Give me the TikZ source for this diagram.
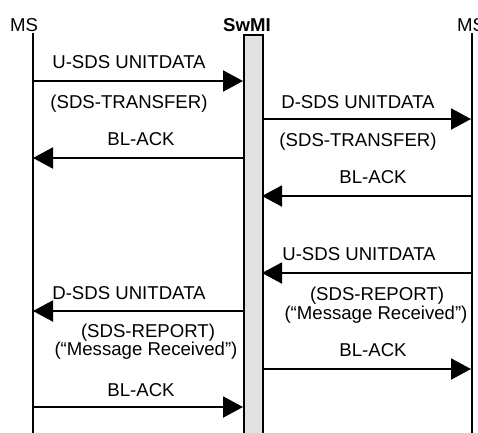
\documentclass[tikz,border=0pt]{standalone}
\usepackage{fontspec}
\setmainfont{Liberation Sans}
\usepackage{tikz}
\usetikzlibrary{arrows.meta, positioning}
\definecolor{barfill}{HTML}{E1E1E1}
\tikzstyle{lbl} = [inner sep=0pt, text height=13pt, text depth=0pt, font=\fontsize{18.6}{18}\selectfont]
\tikzstyle{life} = [line width=2pt]
\tikzstyle{arrow} = [line width=2pt, -{Triangle[length=20pt, width=21pt]}]

\begin{document}
\begin{tikzpicture}[x=1pt, y=-1pt]
    \useasboundingbox (0,0) rectangle (478,432);
    % entities
    \node[lbl] (msA) at (24,25) {MS};
    \node[lbl, font=\fontsize{18.6}{18}\selectfont\bfseries] (swmi) at (247,25) {SwMI};
    \node[lbl] (msB) at (471,25) {MS};
    \draw[life] (33,33) -- (33,440);
    \draw[life] (472,33) -- (472,440);
    \draw[life, fill=barfill] (244,35) rectangle (263,440);
    % points on the life lines
    \coordinate (a1) at (33,81);   \coordinate (b1) at (243,81);
    \coordinate (c2) at (263,119); \coordinate (d2) at (471,119);
    \coordinate (b3) at (244,158); \coordinate (a3) at (33,158);
    \coordinate (d4) at (471,196); \coordinate (c4) at (262,196);
    \coordinate (d5) at (471,273); \coordinate (c5) at (262,273);
    \coordinate (b6) at (244,311); \coordinate (a6) at (33,311);
    \coordinate (c7) at (263,369); \coordinate (d7) at (471,369);
    \coordinate (a8) at (33,407);  \coordinate (b8) at (243,407);
    % messages
    \node[lbl] (m1) at (129,62) {U-SDS UNITDATA};
    \node[lbl] (m1b) at (129,102) {(SDS-TRANSFER)};
    \node[lbl] (m2) at (358,102) {D-SDS UNITDATA};
    \node[lbl] (m2b) at (358,140) {(SDS-TRANSFER)};
    \node[lbl] (m3) at (141,139) {BL-ACK};
    \node[lbl] (m4) at (373,177) {BL-ACK};
    \node[lbl] (m5) at (359,254) {U-SDS UNITDATA};
    \node[lbl] (m5b) at (377,294) {(SDS-REPORT)};
    \node[lbl] (m5c) at (376,313) {(“Message Received”)};
    \node[lbl] (m6) at (129,293) {D-SDS UNITDATA};
    \node[lbl] (m6b) at (148,331) {(SDS-REPORT)};
    \node[lbl] (m6c) at (146,349) {(“Message Received”)};
    \node[lbl] (m7) at (373,350) {BL-ACK};
    \node[lbl] (m8) at (141,390) {BL-ACK};
    \draw[arrow] (a1) -- (b1);
    \draw[arrow] (c2) -- (d2);
    \draw[arrow] (b3) -- (a3);
    \draw[arrow] (d4) -- (c4);
    \draw[arrow] (d5) -- (c5);
    \draw[arrow] (b6) -- (a6);
    \draw[arrow] (c7) -- (d7);
    \draw[arrow] (a8) -- (b8);
  \end{tikzpicture}
\end{document}
